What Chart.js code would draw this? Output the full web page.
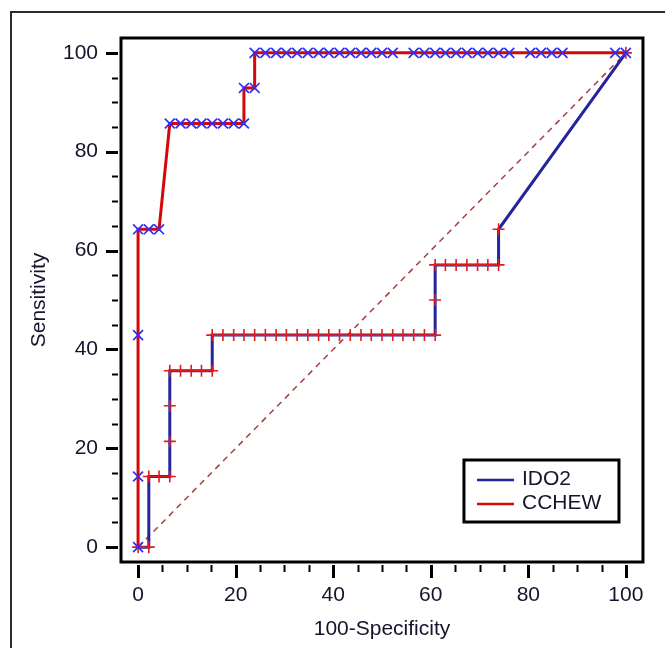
<!DOCTYPE html>
<html>
<head>
<meta charset="utf-8">
<script src="https://cdn.jsdelivr.net/npm/chart.js@4"></script>
<style>
  html, body { margin: 0; padding: 0; background: #fff; }
  body { width: 665px; height: 648px; overflow: hidden; position: relative; }
  #frame { position: absolute; left: 10px; top: 11px; width: 720px; height: 720px;
           border-left: 2px solid #2b2b2b; border-top: 2px solid #2b2b2b; }
  canvas { position: absolute; left: 0; top: 0; }
</style>
</head>
<body>
<div id="frame"></div>
<canvas id="roc" width="665" height="648"></canvas>
<script>
// ROC points (100-Specificity, Sensitivity)
const idoX = [0, 2.2, 2.2, 4.3, 6.5, 6.5, 6.5, 6.5, 8.7, 10.9, 13.0, 15.2, 15.2,
  17.4, 19.6, 21.7, 23.9, 26.1, 28.3, 30.4, 32.6, 34.8, 37.0, 39.1, 41.3, 43.5,
  45.7, 47.8, 50.0, 52.2, 54.3, 56.5, 58.7, 60.9, 60.9, 60.9,
  63.0, 65.2, 67.4, 69.6, 71.7, 73.9, 73.9, 100];
const idoY = [0, 0, 14.3, 14.3, 14.3, 21.4, 28.6, 35.7, 35.7, 35.7, 35.7, 35.7, 42.9,
  42.9, 42.9, 42.9, 42.9, 42.9, 42.9, 42.9, 42.9, 42.9, 42.9, 42.9, 42.9, 42.9,
  42.9, 42.9, 42.9, 42.9, 42.9, 42.9, 42.9, 42.9, 50.0, 57.1,
  57.1, 57.1, 57.1, 57.1, 57.1, 57.1, 64.3, 100];

const cchewX = [0, 0, 0, 0, 2.2, 4.3, 6.5, 8.7, 10.9, 13.0, 15.2, 17.4, 19.6, 21.7,
  21.7, 23.9, 23.9, 26.1, 28.3, 30.4, 32.6, 34.8, 37.0, 39.1, 41.3, 43.5, 45.7,
  47.8, 50.0, 52.2, 56.5, 58.7, 60.9, 63.0, 65.2, 67.4, 69.6, 71.7, 73.9, 76.1,
  80.4, 82.6, 84.8, 87.0, 97.8, 100];
const cchewY = [0, 14.3, 42.9, 64.3, 64.3, 64.3, 85.7, 85.7, 85.7, 85.7, 85.7, 85.7, 85.7, 85.7,
  92.9, 92.9, 100, 100, 100, 100, 100, 100, 100, 100, 100, 100, 100,
  100, 100, 100, 100, 100, 100, 100, 100, 100, 100, 100, 100, 100,
  100, 100, 100, 100, 100, 100];

const diagX = [0, 100];
const diagY = [0, 100];

const xTicks = [0, 20, 40, 60, 80, 100];
const yTicks = [0, 20, 40, 60, 80, 100];

const FONT = "'Liberation Sans', Arial, sans-serif";
const TEXT = "#14142c";

const toPoints = (xs, ys) => xs.map((x, i) => ({ x: x, y: ys[i] }));

// box round the plot, outside tick marks and the legend
const framePlugin = {
  id: "framePlugin",
  afterDraw(chart) {
    const { ctx, chartArea: a, scales: { x, y } } = chart;
    ctx.save();
    ctx.strokeStyle = "#000";

    for (let v = 0; v <= 100; v += 5) {
      const major = v % 20 === 0;
      ctx.lineWidth = major ? 3 : 2;
      const px = Math.round(x.getPixelForValue(v)) + 0.5;
      ctx.beginPath();
      ctx.moveTo(px, a.bottom + 3);
      ctx.lineTo(px, a.bottom + (major ? 16 : 10));
      ctx.stroke();
      const py = Math.round(y.getPixelForValue(v)) + 0.5;
      ctx.beginPath();
      ctx.moveTo(a.left - 3, py);
      ctx.lineTo(a.left - (major ? 15 : 9), py);
      ctx.stroke();
    }

    ctx.lineWidth = 3;
    ctx.strokeRect(a.left, a.top, a.right - a.left, a.bottom - a.top);

    // legend
    const lx = a.right - 179, ly = a.bottom - 102;
    ctx.strokeRect(lx, ly, 155, 62);
    const items = chart.data.datasets.slice(0, 2);
    ctx.font = "21px " + FONT;
    ctx.textBaseline = "middle";
    ctx.textAlign = "left";
    items.forEach((ds, i) => {
      const ry = ly + 20 + i * 24;
      ctx.strokeStyle = ds.borderColor;
      ctx.lineWidth = 2.5;
      ctx.beginPath();
      ctx.moveTo(lx + 13, ry);
      ctx.lineTo(lx + 50, ry);
      ctx.stroke();
      ctx.fillStyle = TEXT;
      ctx.fillText(ds.label, lx + 58, ry - 1);
    });
    ctx.restore();
  }
};

new Chart(document.getElementById("roc"), {
  type: "scatter",
  data: {
    datasets: [
      {
        label: "IDO2",
        data: toPoints(idoX, idoY),
        showLine: true,
        borderColor: "#24249c",
        borderWidth: 3,
        pointStyle: "cross",
        pointRadius: 6,
        pointBorderColor: "#e21c1c",
        pointBackgroundColor: "#e21c1c",
        pointBorderWidth: 1.6,
        order: 2
      },
      {
        label: "CCHEW",
        data: toPoints(cchewX, cchewY),
        showLine: true,
        borderColor: "#d40808",
        borderWidth: 3,
        pointStyle: "crossRot",
        pointRadius: 7,
        pointBorderColor: "#2f2ff5",
        pointBackgroundColor: "#2f2ff5",
        pointBorderWidth: 1.7,
        order: 1
      },
      {
        label: "ref",
        data: toPoints(diagX, diagY),
        showLine: true,
        borderColor: "#a3403f",
        borderWidth: 1.5,
        borderDash: [6, 5],
        pointRadius: 0,
        order: 3
      }
    ]
  },
  options: {
    responsive: false,
    animation: false,
    devicePixelRatio: 1,
    layout: { padding: { top: 38, right: 18, left: 0, bottom: 0 } },
    plugins: { legend: { display: false }, tooltip: { enabled: false } },
    scales: {
      x: {
        type: "linear",
        min: -3.5,
        max: 103.5,
        grid: { display: false, drawTicks: false },
        border: { display: false },
        afterBuildTicks: s => { s.ticks = xTicks.map(v => ({ value: v })); },
        afterFit: s => { s.height = 86; },
        ticks: { padding: 21, color: TEXT, font: { family: FONT, size: 21 }, maxRotation: 0, autoSkip: false },
        title: { display: true, text: "100-Specificity", color: TEXT,
                 font: { family: FONT, size: 21 }, padding: { top: 0, bottom: 6 } }
      },
      y: {
        type: "linear",
        min: -3,
        max: 103,
        grid: { display: false, drawTicks: false },
        border: { display: false },
        afterBuildTicks: s => { s.ticks = yTicks.map(v => ({ value: v })); },
        afterFit: s => { s.width = 121; },
        ticks: { padding: 23, color: TEXT, font: { family: FONT, size: 21 }, autoSkip: false },
        title: { display: true, text: "Sensitivity", color: TEXT,
                 font: { family: FONT, size: 21 }, padding: { top: 27, bottom: 0 } }
      }
    }
  },
  plugins: [framePlugin]
});
</script>
</body>
</html>
